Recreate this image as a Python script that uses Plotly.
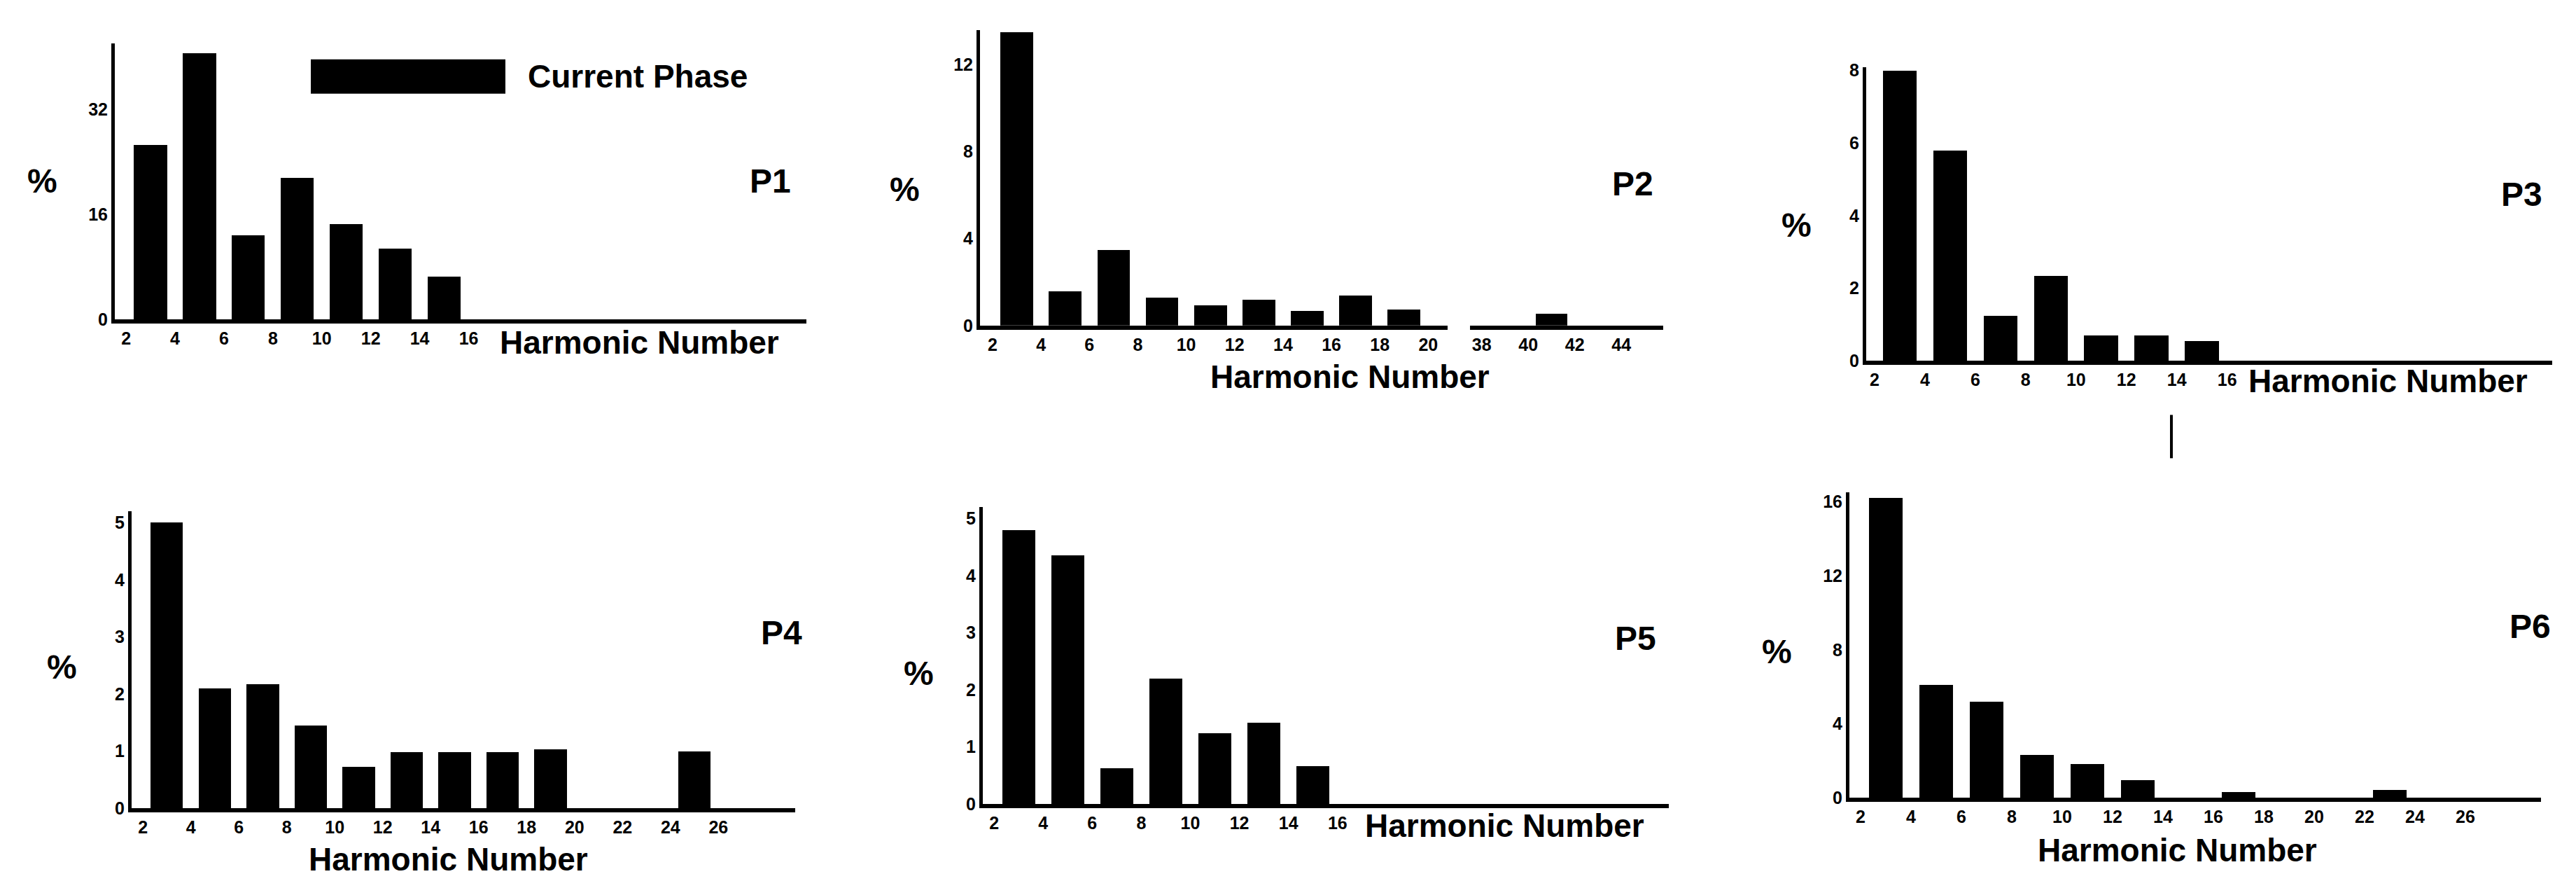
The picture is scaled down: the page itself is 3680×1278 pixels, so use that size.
import plotly.graph_objects as go

W, H = 3680, 1278

# harmonic order (odd) and magnitude in %
p1_h = [3, 5, 7, 9, 11, 13, 15]
p1_v = [26.5, 40.5, 12.8, 21.5, 14.5, 10.7, 6.5]
p2_h = [3, 5, 7, 9, 11, 13, 15, 17, 19]
p2_v = [13.5, 1.6, 3.5, 1.3, 0.95, 1.2, 0.7, 1.4, 0.75]
p2b_h = [41]
p2b_v = [0.55]
p3_h = [3, 5, 7, 9, 11, 13, 15]
p3_v = [8.0, 5.8, 1.25, 2.35, 0.7, 0.7, 0.55]
p4_h = [3, 5, 7, 9, 11, 13, 15, 17, 19, 25]
p4_v = [5.0, 2.1, 2.17, 1.45, 0.72, 0.98, 0.98, 0.98, 1.03, 1.0]
p5_h = [3, 5, 7, 9, 11, 13, 15]
p5_v = [4.8, 4.35, 0.63, 2.2, 1.24, 1.42, 0.66]
p6_h = [3, 5, 7, 9, 11, 13, 17, 23]
p6_v = [16.2, 6.1, 5.2, 2.3, 1.8, 0.95, 0.3, 0.4]

p1_yt = [0, 16, 32]
p2_yt = [0, 4, 8, 12]
p3_yt = [0, 2, 4, 6, 8]
p45_yt = [0, 1, 2, 3, 4, 5]
p6_yt = [0, 4, 8, 12, 16]

# name, x, y, xaxis px (left, right), yaxis px (bottom, top), x range, y range, x ticks, y ticks
panels = [
    ("1", p1_h, p1_v, (156, 1144), (447, 46), [1.54, 29.8], [0, 42], list(range(2, 17, 2)), p1_yt),
    ("2", p2_h, p2_v, (1392, 2060), (456, 26), [1.48, 20.8], [0, 13.6], list(range(2, 21, 2)), p2_yt),
    ("3", p3_h, p3_v, (2658, 3638), (507, 80), [1.67, 28.9], [0, 8.1], list(range(2, 17, 2)), p3_yt),
    ("4", p4_h, p4_v, (180, 1128), (1158, 726), [1.53, 29.2], [0, 5.2], list(range(2, 27, 2)), p45_yt),
    ("5", p5_h, p5_v, (1396, 2376), (1152, 720), [1.54, 29.5], [0, 5.2], list(range(2, 17, 2)), p45_yt),
    ("6", p6_h, p6_v, (2634, 3622), (1143, 699), [1.56, 29.0], [0, 16.5], list(range(2, 27, 2)), p6_yt),
]

tickfont = dict(family="Liberation Sans", size=25, color="black", weight="bold")
labfont = dict(family="Liberation Sans", size=46, color="black")


def px_x(x):
    return x / W


def px_y(y):
    return 1 - y / H


fig = go.Figure()
layout = {}
for name, hx, hv, (xl, xr), (yb, yt), xr_, yr_, xt, ytk in panels:
    sfx = "" if name == "1" else name
    fig.add_trace(go.Bar(x=hx, y=hv, width=1.35, marker=dict(color="black", line=dict(width=0)),
                         xaxis="x" + sfx, yaxis="y" + sfx, showlegend=False))
    layout["xaxis" + sfx] = dict(domain=[px_x(xl), px_x(xr)], range=xr_, anchor="y" + sfx,
                                 tickvals=xt, ticktext=[str(t) for t in xt], showline=True, linewidth=6,
                                 linecolor="black", showgrid=False, zeroline=False, ticks="", tickfont=tickfont)
    layout["yaxis" + sfx] = dict(domain=[px_y(yb), px_y(yt)], range=yr_, anchor="x" + sfx,
                                 tickvals=ytk, showline=True, linewidth=5, linecolor="black",
                                 showgrid=False, zeroline=False, ticks="", tickfont=tickfont)

# P2 broken axis, second segment 38..44
fig.add_trace(go.Bar(x=p2b_h, y=p2b_v, width=1.35, marker=dict(color="black", line=dict(width=0)),
                     xaxis="x7", yaxis="y7", showlegend=False))
layout["xaxis7"] = dict(domain=[px_x(2092), px_x(2368)], range=[37.5, 45.8], anchor="y7",
                        tickvals=[38, 40, 42, 44], showline=True, linewidth=6, linecolor="black",
                        showgrid=False, zeroline=False, ticks="", tickfont=tickfont)
layout["yaxis7"] = dict(domain=[px_y(456), px_y(26)], range=[0, 13.6], anchor="x7", visible=False)

annos = []


def text(t, x, y, font, xanchor="center"):
    annos.append(dict(text=t, x=px_x(x), y=px_y(y), xref="paper", yref="paper", showarrow=False,
                      xanchor=xanchor, yanchor="middle", font=font))


bold = dict(family="Liberation Sans", size=48, color="black")
text("<b>Harmonic Number</b>", 704, 481, labfont, "left")
text("<b>Harmonic Number</b>", 1920, 531, labfont)
text("<b>Harmonic Number</b>", 3202, 537, labfont, "left")
text("<b>Harmonic Number</b>", 632, 1232, labfont)
text("<b>Harmonic Number</b>", 1940, 1183, labfont, "left")
text("<b>Harmonic Number</b>", 3102, 1219, labfont)
for t, x, y in [("P1", 1092, 246), ("P2", 2324, 250), ("P3", 3594, 265),
                ("P4", 1108, 903), ("P5", 2328, 911), ("P6", 3606, 894)]:
    text("<b>%s</b>" % t, x, y, bold)
for x, y in [(52, 246), (1284, 258), (2558, 310), (80, 953), (1304, 962), (2530, 930)]:
    text("<b>%</b>", x, y, bold)
text("<b>Current Phase</b>", 744, 94, labfont, "left")

shapes = [
    dict(type="rect", xref="paper", yref="paper", x0=px_x(436), x1=px_x(714), y0=px_y(119), y1=px_y(69),
         fillcolor="black", line=dict(width=0)),
    dict(type="line", xref="paper", yref="paper", x0=px_x(3094), x1=px_x(3094), y0=px_y(586), y1=px_y(649),
         line=dict(color="black", width=4)),
]

fig.update_layout(width=W, height=H, margin=dict(l=0, r=0, t=0, b=0), plot_bgcolor="white",
                  paper_bgcolor="white", bargap=0, annotations=annos, shapes=shapes, **layout)
fig.write_html("out.html")
